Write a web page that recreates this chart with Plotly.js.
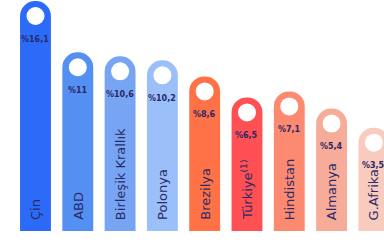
<!DOCTYPE html>
<html><head><meta charset="utf-8">
<script src="https://cdn.plot.ly/plotly-3.0.1.min.js"></script>
<style>html,body{margin:0;padding:0;background:#fff;}#c{width:384px;height:244px;}</style>
</head><body><div id="c"></div>
<script>
const countries = ["Çin","ABD","Birleşik Krallık","Polonya","Brezilya","Türkiye<sup>(1)</sup>","Hindistan","Almanya","G.Afrika"];
const values = [16.1, 11, 10.6, 10.2, 8.6, 6.5, 7.1, 5.4, 3.5];
const labels = ["%16,1","%11","%10,6","%10,2","%8,6","%6,5","%7,1","%5,4","%3,5"];
const colors = ["#2b6bf7","#5390f2","#77a5f3","#9bbff8","#ff7146","#ff5053","#fc8a71","#f7ab99","#f9cabe"];
// visual offset: bars start below zero in the original graphic
const OFFSET = 6.79;
const xs = countries.map((c,i)=>i);
const ys = values.map(v=>v+OFFSET);

const bar = {
  type:"bar", x: xs, y: ys,
  width: 0.73,
  marker:{color: colors, cornerradius:"50%", line:{width:0}},
  hoverinfo:"none", cliponaxis:false
};

const shapes = ys.map((v,i)=>({
  type:"circle", xref:"x", yref:"y", xsizemode:"pixel", ysizemode:"pixel",
  xanchor:i, yanchor:v, x0:-9, x1:9, y0:-24, y1:-6,
  fillcolor:"#ffffff", line:{width:0}, layer:"above"
}));

const pctAnn = ys.map((v,i)=>({
  x:i, y:v, xref:"x", yref:"y", text:"<b>"+labels[i]+"</b>", showarrow:false,
  yshift:-38, font:{family:"'DejaVu Sans', sans-serif", size:8, color:"#2b2766"}
}));
const nameAnn = countries.map((c,i)=>({
  x:i, y:0, xref:"x", yref:"y", text:c, showarrow:false, textangle:-90,
  xanchor:"center", yanchor:"bottom", yshift:9,
  font:{family:"'DejaVu Sans', sans-serif", size:13, color:"#2b2a66"}
}));

const layout = {
  width:384, height:244, margin:{l:0,r:0,t:0,b:0},
  paper_bgcolor:"#ffffff", plot_bgcolor:"#ffffff",
  xaxis:{range:[-0.839, 8.239], visible:false, fixedrange:true},
  yaxis:{range:[-1.29, 22.99], visible:false, fixedrange:true},
  shapes: shapes, annotations: pctAnn.concat(nameAnn), showlegend:false
};
Plotly.newPlot("c",[bar],layout,{displayModeBar:false, staticPlot:true});
</script></body></html>
